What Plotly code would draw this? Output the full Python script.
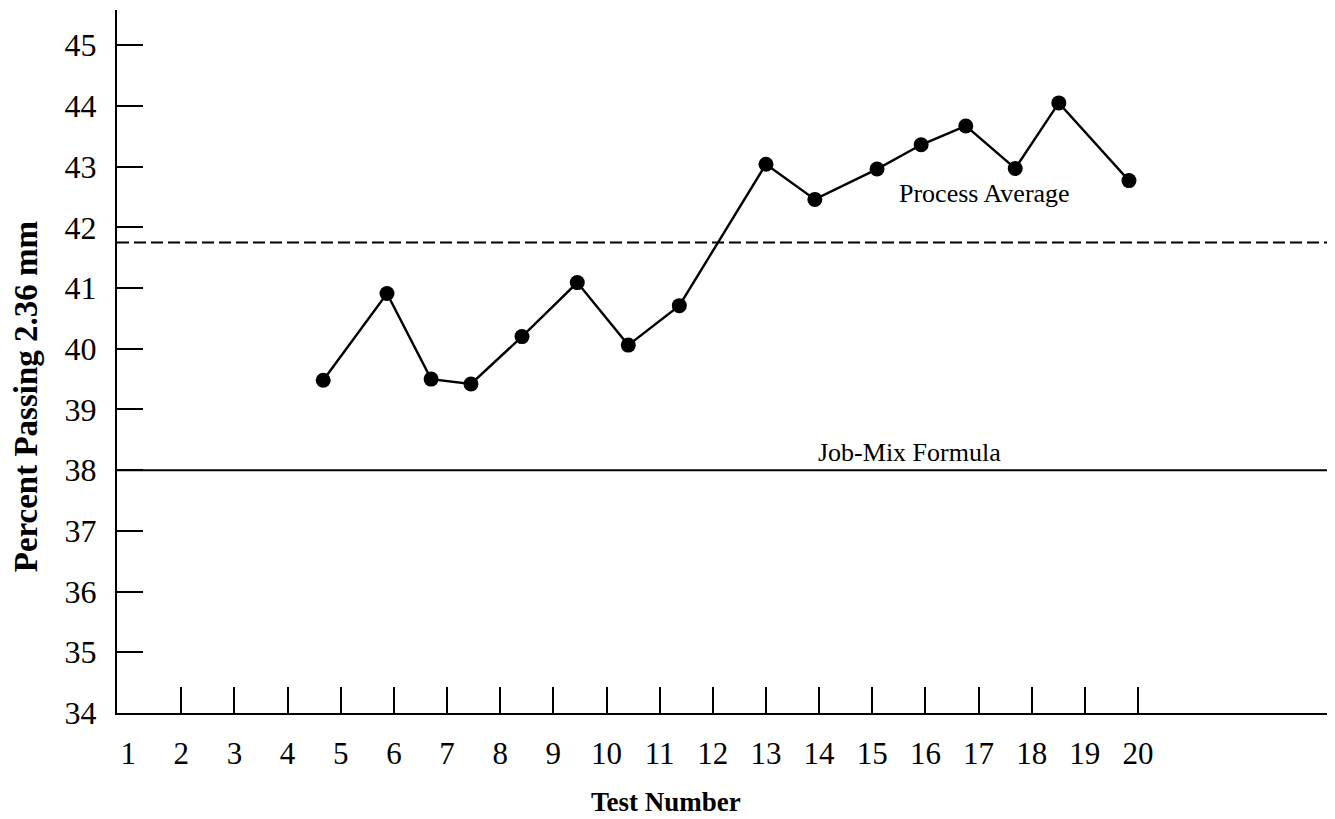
import plotly.graph_objects as go

# ---- data ----
test_x = [4.67, 5.87, 6.70, 7.45, 8.41, 9.45, 10.41, 11.37,
          13.0, 13.92, 15.09, 15.92, 16.76, 17.69, 18.51, 19.83]
percent_passing = [39.48, 40.91, 39.50, 39.42, 40.20, 41.09, 40.06, 40.71,
                   43.04, 42.46, 42.96, 43.36, 43.67, 42.97, 44.05, 42.77]
x_tick_numbers = list(range(1, 21))
y_tick_values = list(range(34, 46))
job_mix_formula = 38.0
process_average = 41.75

SERIF = "Liberation Serif, Times New Roman, serif"
X_RANGE = [0.79, 23.65]
Y_RANGE = [34, 45.58]

fig = go.Figure()

fig.add_trace(go.Scatter(
    x=test_x, y=percent_passing, mode="lines+markers",
    line=dict(color="black", width=2.4),
    marker=dict(color="black", size=15),
    showlegend=False, hoverinfo="x+y",
))

# invisible helper trace so the overlay axis carrying label "1" is drawn
fig.add_trace(go.Scatter(
    x=[x_tick_numbers[0]], y=[job_mix_formula], xaxis="x2", mode="markers",
    marker=dict(opacity=0), showlegend=False, hoverinfo="skip",
))

fig.add_hline(y=job_mix_formula, line=dict(color="black", width=2))
fig.add_hline(y=process_average, line=dict(color="black", width=2, dash="12px,5px"))

fig.add_annotation(x=17.12, y=process_average, yshift=49, text="Process Average",
                   xanchor="center", yanchor="middle",
                   showarrow=False, font=dict(family=SERIF, size=26, color="black"))
fig.add_annotation(x=15.71, y=job_mix_formula, yshift=18, text="Job-Mix Formula",
                   xanchor="center", yanchor="middle",
                   showarrow=False, font=dict(family=SERIF, size=26, color="black"))

# axis titles
fig.add_annotation(xref="paper", yref="paper", x=-0.0752, y=0.45,
                   xanchor="center", yanchor="middle", borderpad=0,
                   text="<b>Percent Passing 2.36 mm</b>", textangle=-90, showarrow=False,
                   font=dict(family=SERIF, size=33, color="black"))
fig.add_annotation(xref="paper", yref="paper", x=0.452, y=-0.127,
                   xanchor="center", yanchor="middle", borderpad=0,
                   text="<b>Test Number</b>", showarrow=False,
                   font=dict(family=SERIF, size=27, color="black"))

# the page adds an 8px body margin, so the figure is sized/placed to compensate
fig.update_layout(
    width=1327, height=811,
    margin=dict(l=109, r=3, t=2, b=106),
    paper_bgcolor="white", plot_bgcolor="white",
    font=dict(family=SERIF, color="black"),
    xaxis=dict(
        range=X_RANGE, showgrid=False, zeroline=False,
        showline=True, linecolor="black", linewidth=2,
        tickmode="array", tickvals=x_tick_numbers[1:],
        ticktext=[str(v) for v in x_tick_numbers[1:]],
        ticks="inside", ticklen=26, tickwidth=2, tickcolor="black",
        tickfont=dict(family=SERIF, size=31, color="black"),
        ticklabelstandoff=12,
    ),
    xaxis2=dict(
        range=X_RANGE, overlaying="x", anchor="y", side="bottom",
        showgrid=False, zeroline=False, showline=False,
        tickmode="array", tickvals=x_tick_numbers[:1],
        ticktext=[str(v) for v in x_tick_numbers[:1]], ticks="",
        tickfont=dict(family=SERIF, size=31, color="black"),
        ticklabelstandoff=19,
    ),
    yaxis=dict(
        range=Y_RANGE, showgrid=False, zeroline=False,
        showline=True, linecolor="black", linewidth=2,
        tickmode="array", tickvals=y_tick_values,
        ticks="inside", ticklen=26, tickwidth=2, tickcolor="black",
        tickfont=dict(family=SERIF, size=32, color="black"),
        ticklabelstandoff=12,
    ),
)

fig.write_html("out.html")
